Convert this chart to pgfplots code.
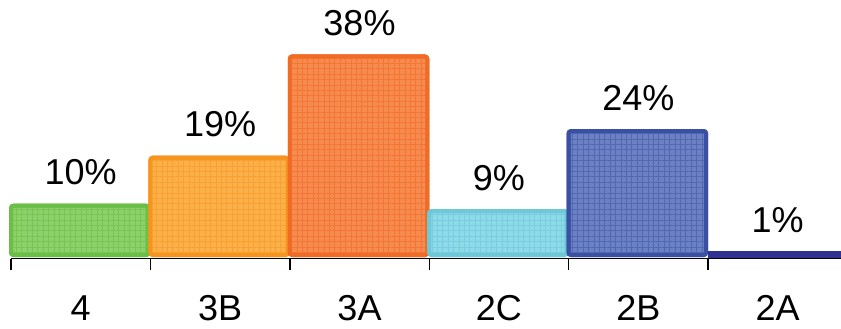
\documentclass[border=0pt]{standalone}
\usepackage{fontspec}
\setmainfont{Liberation Sans}
\usepackage{pgfplots}
\pgfplotsset{compat=1.18}
\usetikzlibrary{patterns.meta}
\definecolor{gB}{HTML}{6BBF47}\definecolor{gF}{HTML}{8DD16A}\definecolor{gG}{HTML}{78C555}
\definecolor{yB}{HTML}{F7941E}\definecolor{yF}{HTML}{FBB04A}\definecolor{yG}{HTML}{F8A032}
\definecolor{oB}{HTML}{F26B24}\definecolor{oF}{HTML}{F68B50}\definecolor{oG}{HTML}{F47636}
\definecolor{cB}{HTML}{6DC8D8}\definecolor{cF}{HTML}{8DDAE8}\definecolor{cG}{HTML}{78CEE0}
\definecolor{bB}{HTML}{3A50A2}\definecolor{bF}{HTML}{6C80C4}\definecolor{bG}{HTML}{5268B2}
\definecolor{dB}{HTML}{2E3192}
\tikzset{bar/.style n args={3}{preaction={fill=#2}, pattern={Hatch[angle=0,distance=2.7pt,line width=0.45pt]}, pattern color=#3, draw=#1, line width=2pt, rounded corners=1.2pt}}
\begin{document}
\begin{tikzpicture}
\path[use as bounding box] (-5.5pt,-34.7pt) rectangle (415pt,129.3pt);
\begin{axis}[x=69.7pt, y=2.665pt, xmin=0, xmax=5.96, ymin=-0.3, ymax=48,
  axis x line*=bottom, axis y line=none, clip=false,
  axis line style={black, line width=0.7pt},
  xtick={0.5,1.5,2.5,3.5,4.5,5.5}, xticklabels={4,3B,3A,2C,2B,2A},
  major tick length=0pt,
  extra x ticks={0,1,2,3,4,5}, extra x tick labels={},
  extra x tick style={major tick length=5.75pt, tick align=outside, tick style={black, line width=0.7pt}},
  xticklabel style={font=\fontsize{18}{21}\selectfont, anchor=base, yshift=-30.7pt, inner sep=0pt},
  every node near coord/.append style={font=\fontsize{18}{21}\selectfont, text=black, anchor=base, yshift=9.5pt, inner sep=0pt},
]
\addplot[bar={gB}{gF}{gG}] coordinates {(0.0,0.375) (0.0,9.625) (0.986,9.625) (0.986,0.375)} --cycle;
\addplot[bar={yB}{yF}{yG}] coordinates {(1.0,0.375) (1.0,18.625) (1.986,18.625) (1.986,0.375)} --cycle;
\addplot[bar={oB}{oF}{oG}] coordinates {(2.0,0.375) (2.0,37.625) (2.986,37.625) (2.986,0.375)} --cycle;
\addplot[bar={cB}{cF}{cG}] coordinates {(3.0,0.375) (3.0,8.625) (3.986,8.625) (3.986,0.375)} --cycle;
\addplot[bar={bB}{bF}{bG}] coordinates {(4.0,0.375) (4.0,23.625) (4.986,23.625) (4.986,0.375)} --cycle;
\addplot[fill=dB, draw=dB, line width=0pt] coordinates {(5.0,0) (5.0,1) (6.2,1) (6.2,0)} --cycle;
\addplot[draw=none, mark=none, point meta=explicit symbolic, nodes near coords={\pgfplotspointmeta}]
  coordinates {(0.5,10) [10\%] (1.5,19) [19\%] (2.5,38) [38\%] (3.5,9) [9\%] (4.5,24) [24\%] (5.5,1) [1\%]};
\end{axis}
\end{tikzpicture}
\end{document}
